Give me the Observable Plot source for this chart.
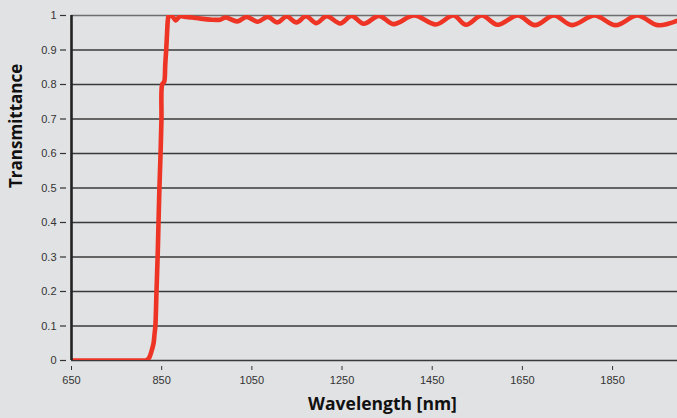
<!DOCTYPE html>
<html>
<head>
<meta charset="utf-8">
<script src="https://cdn.jsdelivr.net/npm/d3@7"></script>
<script src="https://cdn.jsdelivr.net/npm/@observablehq/plot@0.6"></script>
<style>
  html, body { margin: 0; padding: 0; background: #e1e2e4; }
  #chart { width: 677px; height: 418px; }
</style>
</head>
<body>
<div id="chart"></div>
<script>
// Wavelength (nm) and transmittance
const wavelength = [650, 700, 750, 800, 815, 819, 823, 827, 832, 834, 836, 838.5, 841, 843, 845, 847.5, 849.5, 851, 854, 856, 858, 860, 862, 864, 866,
  874, 881, 890, 905, 918, 936, 958, 980, 992, 1018, 1038, 1063, 1085, 1107, 1127, 1149,
  1170, 1193, 1216, 1246, 1271, 1298, 1332, 1364, 1410, 1458, 1497, 1525, 1560, 1595, 1640, 1678, 1720, 1760, 1810, 1857, 1905, 1950, 1994];
const transmittance = [0, 0, 0, 0, 0, 0.003, 0.01, 0.025, 0.05, 0.075, 0.1, 0.2, 0.3, 0.4, 0.5, 0.6, 0.7, 0.8, 0.805, 0.81, 0.86, 0.9, 0.95, 0.99, 1.0,
  0.997, 0.986, 0.997, 0.996, 0.994, 0.991, 0.988, 0.988, 0.994, 0.983, 0.996, 0.982, 0.996, 0.98, 0.997, 0.98,
  0.998, 0.978, 0.998, 0.977, 0.999, 0.976, 0.999, 0.975, 1.0, 0.974, 1.0, 0.973, 1.0, 0.973, 1.0, 0.972, 1.0, 0.972, 1.0, 0.972, 1.0, 0.972, 0.985];
const xTicks = [650, 850, 1050, 1250, 1450, 1650, 1850];
const yTicks = [0, 0.1, 0.2, 0.3, 0.4, 0.5, 0.6, 0.7, 0.8, 0.9, 1];

const data = wavelength.map((w, i) => ({w, t: transmittance[i]}));

const chart = Plot.plot({
  width: 677,
  height: 418,
  marginLeft: 71,
  marginRight: 0,
  marginTop: 15,
  marginBottom: 58,
  style: {background: "#e1e2e4", fontFamily: "'Liberation Sans', Arial, sans-serif", fontSize: "11px", color: "#333", overflow: "visible"},
  x: {domain: [650, 1994]},
  y: {domain: [0, 1]},
  marks: [
    Plot.ruleY(yTicks, {stroke: d => d === 1 ? "#6e6e6e" : "#3a3a3a", strokeWidth: 1.4}),
    Plot.axisY({ticks: yTicks, tickFormat: d => String(d), tickSize: 6, tickPadding: 4, dx: -5, stroke: "#333", strokeWidth: 1.2, fill: "#333", fontSize: 11, label: null}),
    Plot.axisX({ticks: xTicks, tickFormat: d => String(d), tickSize: 4, tickPadding: 6, dy: 6, stroke: "#333", fill: "#333", fontSize: 11, label: null}),
    Plot.line(data, {x: "w", y: "t", stroke: "#ee3424", strokeWidth: 4.6, curve: "catmull-rom", clip: true}),
    Plot.ruleX([650], {y1: 0, y2: 1, stroke: "#222", strokeWidth: 2.6}),
    Plot.text(["Wavelength [nm]"], {frameAnchor: "bottom", dy: 49, dx: 8, text: d => d, fontSize: 17.5, fontWeight: "bold", fill: "#111", fontFamily: "'Open Sans', sans-serif"}),
    Plot.text(["Transmittance"], {frameAnchor: "left", dx: -55, text: d => d, rotate: -90, fontSize: 17, fontWeight: "bold", fill: "#111", fontFamily: "'Open Sans', sans-serif"})
  ]
});
document.getElementById("chart").append(chart);
</script>
</body>
</html>
